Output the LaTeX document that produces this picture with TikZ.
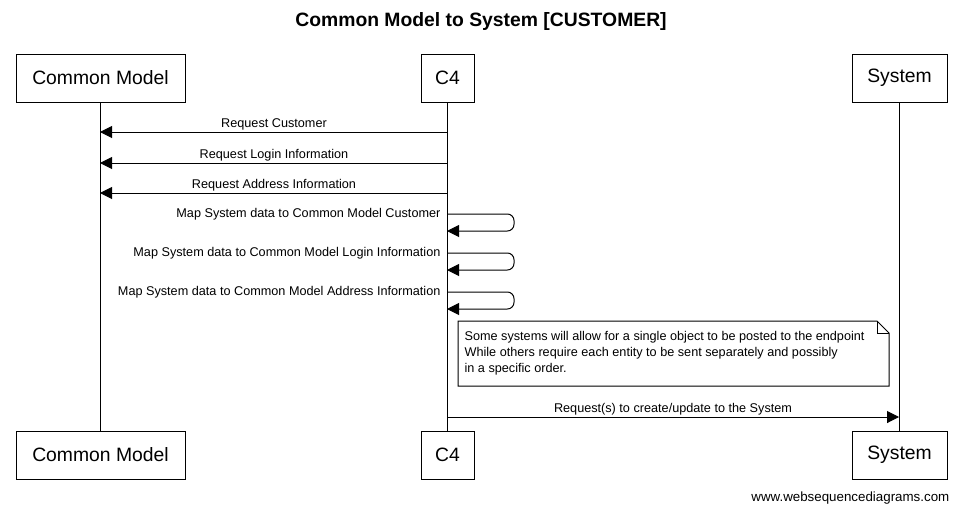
\documentclass[tikz,border=0pt]{standalone}
\usepackage{fontspec}
\setmainfont{Liberation Sans}
\usetikzlibrary{arrows.meta}
\begin{document}
\begin{tikzpicture}[x=0.75pt,y=-0.75pt,
  actor/.style={draw,fill=white,line width=0.75pt,minimum height=36pt,font=\fontsize{14.5}{16}\selectfont,inner sep=0pt},
  msg/.style={line width=0.75pt,-{Triangle[length=9pt,width=9pt]}},
  lbl/.style={font=\fontsize{9.5}{11}\selectfont,inner sep=1pt},
  life/.style={line width=0.75pt}]
\useasboundingbox (0,0) rectangle (962,514);
\node[font=\bfseries\fontsize{14.5}{16}\selectfont] (title) at (481,22) {Common Model to System [CUSTOMER]};
\node[actor,minimum width=126.75pt] (cmT) at (100.5,78) {Common Model};
\node[actor,minimum width=39.75pt] (c4T) at (447.5,78) {C4};
\node[actor,minimum width=71.25pt] (sysT) at (899.5,78) {System};
\node[actor,minimum width=126.75pt] (cmB) at (100.5,455) {Common Model};
\node[actor,minimum width=39.75pt] (c4B) at (447.5,455) {C4};
\node[actor,minimum width=71.25pt] (sysB) at (899.5,455) {System};
\draw[life] (cmT.south) -- (cmB.north);
\draw[life] (c4T.south) -- (c4B.north);
\draw[life] (sysT.south) -- (sysB.north);
% messages to Common Model
\foreach \y/\t/\n in {132/Request Customer/a,163/Request Login Information/b,193/Request Address Information/c}{
  \coordinate (s\n) at (447,\y); \coordinate (e\n) at (100,\y);
  \draw[msg] (s\n) -- (e\n);
  \node[lbl] (l\n) at (274,\y-8) {\t};
}
% self messages
\foreach \y/\t/\n in {214/Map System data to Common Model Customer/d,253/Map System data to Common Model Login Information/e,292/Map System data to Common Model Address Information/f}{
  \coordinate (s\n) at (447,\y); \coordinate (e\n) at (447,\y+17);
  \draw[msg,rounded corners=5pt] (s\n) -- (514,\y) -- (514,\y+17) -- (e\n);
  \node[lbl,anchor=east] (l\n) at (442,\y) {\t};
}
% note
\draw[line width=0.75pt,fill=white] (458,321) -- (877,321) -- (889,333) -- (889,386) -- (458,386) -- cycle;
\draw[line width=0.75pt] (877,321) -- (877,333) -- (889,333);
\node[lbl,anchor=north west,align=left,font=\fontsize{9.5}{12}\selectfont] (note) at (463,330) {Some systems will allow for a single object to be posted to the endpoint\\While others require each entity to be sent separately and possibly\\in a specific order.};
\coordinate (sg) at (447,417); \coordinate (eg) at (899,417);
\draw[msg] (sg) -- (eg);
\node[lbl] (lg) at (673,409) {Request(s) to create/update to the System};
\node[font=\fontsize{10}{12}\selectfont,anchor=east] (foot) at (954,498) {www.websequencediagrams.com};
\end{tikzpicture}
\end{document}
